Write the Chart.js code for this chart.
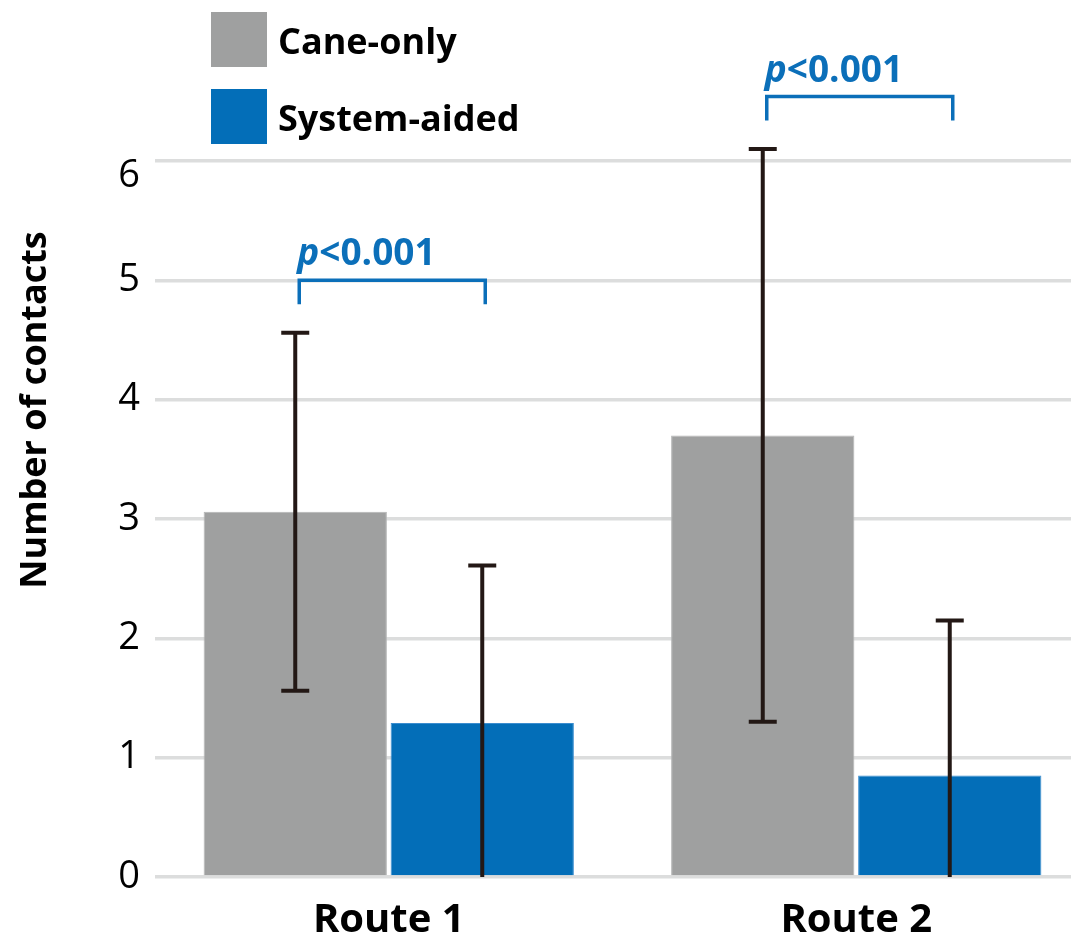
<!DOCTYPE html>
<html>
<head>
<meta charset="utf-8">
<script src="https://cdn.jsdelivr.net/npm/chart.js@4.4.0/dist/chart.umd.min.js"></script>
<style>
  html, body { margin: 0; padding: 0; background: #fff; overflow: hidden; }
  #wrap { width: 1071px; height: 939px; overflow: hidden; }
</style>
</head>
<body>
<div id="wrap"><canvas id="bar-chart" width="1092" height="939"></canvas></div>
<script>
// 데이터
let routes = ['Route 1', 'Route 2'];
let series_names = ['Cane-only', 'System-aided'];
let cane_mean = [3.06, 3.70];
let cane_sd = [1.50, 2.40];
let system_mean = [1.29, 0.85];
let system_sd = [1.32, 1.30];
let y_ticks = [0, 1, 2, 3, 4, 5, 6];
let p_text = ['<0.001', '<0.001'];
let bracket_y = [5.0, 6.54];   // 괄호 높이 (y 값)

// 색상
let color_list = ['#9fa0a0', '#036eb8'];
let border_list = ['#b3b4b4', '#3b8dcf'];
let err_color = '#231815';
let p_color = '#0b6fb9';
let font_name = "'Open Sans', 'Noto Sans', sans-serif";

// 에러바 그리기
let errorBars = {
  id: 'errorBars',
  afterDatasetsDraw(chart) {
    let ctx = chart.ctx;
    let y = chart.scales.y;
    let sds = [cane_sd, system_sd];
    ctx.save();
    ctx.strokeStyle = err_color;
    ctx.lineWidth = 4;
    chart.data.datasets.forEach(function(ds, i) {
      chart.getDatasetMeta(i).data.forEach(function(bar, j) {
        let m = ds.data[j];
        let low = m - sds[i][j];
        let hi = y.getPixelForValue(m + sds[i][j]);
        let lo = y.getPixelForValue(Math.max(low, 0));
        ctx.beginPath();
        ctx.moveTo(bar.x, hi);
        ctx.lineTo(bar.x, lo);
        ctx.moveTo(bar.x - 14, hi);
        ctx.lineTo(bar.x + 14, hi);
        if (low > 0) { // 0 아래로 내려가면 캡 없음
          ctx.moveTo(bar.x - 14, lo);
          ctx.lineTo(bar.x + 14, lo);
        }
        ctx.stroke();
      });
    });
    ctx.restore();
  }
};

// p 값 괄호, 범례, y축 제목
let extras = {
  id: 'extras',
  afterDraw(chart) {
    let ctx = chart.ctx;
    let y = chart.scales.y;
    let m0 = chart.getDatasetMeta(0);
    let m1 = chart.getDatasetMeta(1);
    ctx.save();

    ctx.strokeStyle = p_color;
    ctx.fillStyle = p_color;
    ctx.lineWidth = 3.5;
    for (let j = 0; j < routes.length; j++) {
      let x0 = m0.data[j].x + 4;
      let x1 = m1.data[j].x + 3;
      let yt = y.getPixelForValue(bracket_y[j]);
      ctx.beginPath();
      ctx.moveTo(x0, yt + 24);
      ctx.lineTo(x0, yt);
      ctx.lineTo(x1, yt);
      ctx.lineTo(x1, yt + 24);
      ctx.stroke();
      ctx.textAlign = 'left';
      ctx.textBaseline = 'alphabetic';
      ctx.font = 'italic bold 37px ' + font_name;
      ctx.fillText('p', x0 - 2, yt - 15);
      let w = ctx.measureText('p').width;
      ctx.font = 'bold 37px ' + font_name;
      ctx.fillText(p_text[j], x0 - 2 + w, yt - 15);
    }

    // 범례
    let tops = [12, 89];
    chart.data.datasets.forEach(function(ds, i) {
      ctx.fillStyle = ds.backgroundColor;
      ctx.fillRect(211, tops[i], 56, 55);
      ctx.fillStyle = '#000';
      ctx.font = 'bold 36px ' + font_name;
      ctx.textAlign = 'left';
      ctx.textBaseline = 'alphabetic';
      ctx.fillText(ds.label, 278, tops[i] + 42);
    });

    // y축 제목
    ctx.translate(36, 410);
    ctx.rotate(-Math.PI / 2);
    ctx.fillStyle = '#000';
    ctx.font = 'bold 36px ' + font_name;
    ctx.textAlign = 'center';
    ctx.textBaseline = 'middle';
    ctx.fillText('Number of contacts', 0, 0);
    ctx.restore();
  }
};

let myChart = new Chart(document.getElementById('bar-chart').getContext('2d'), {
  type: 'bar',
  data: {
    labels: routes,
    datasets: [
      {
        label: series_names[0],
        data: cane_mean,
        backgroundColor: color_list[0],
        borderColor: border_list[0],
        borderWidth: 1,
        categoryPercentage: 0.8,
        barPercentage: 0.98
      },
      {
        label: series_names[1],
        data: system_mean,
        backgroundColor: color_list[1],
        borderColor: border_list[1],
        borderWidth: 1,
        categoryPercentage: 0.8,
        barPercentage: 0.98
      }
    ]
  },
  options: {
    responsive: false,
    animation: false,
    layout: { padding: { top: 161, right: 2, left: 0, bottom: 0 } },
    plugins: {
      legend: { display: false },
      tooltip: { enabled: false }
    },
    scales: {
      x: {
        grid: { display: false, drawTicks: false },
        border: { display: false },
        ticks: {
          color: '#000',
          padding: 20,
          font: { family: font_name, size: 40, weight: 'bold' }
        },
        afterFit: function(s) { s.height = 62; }
      },
      y: {
        min: 0,
        max: 6,
        afterBuildTicks: function(s) { s.ticks = y_ticks.map(v => ({ value: v })); },
        grid: { color: '#dcdddd', lineWidth: 3.5, drawTicks: false },
        border: { display: false },
        ticks: {
          color: '#000',
          padding: 15,
          font: { family: font_name, size: 38, lineHeight: 0.79 },
          // 맨 위 6은 조금 아래로
          callback: function(v) { return v === 6 ? ['', '6'] : String(v); }
        },
        afterFit: function(s) { s.width = 155; }
      }
    }
  },
  plugins: [errorBars, extras]
});
</script>
</body>
</html>
